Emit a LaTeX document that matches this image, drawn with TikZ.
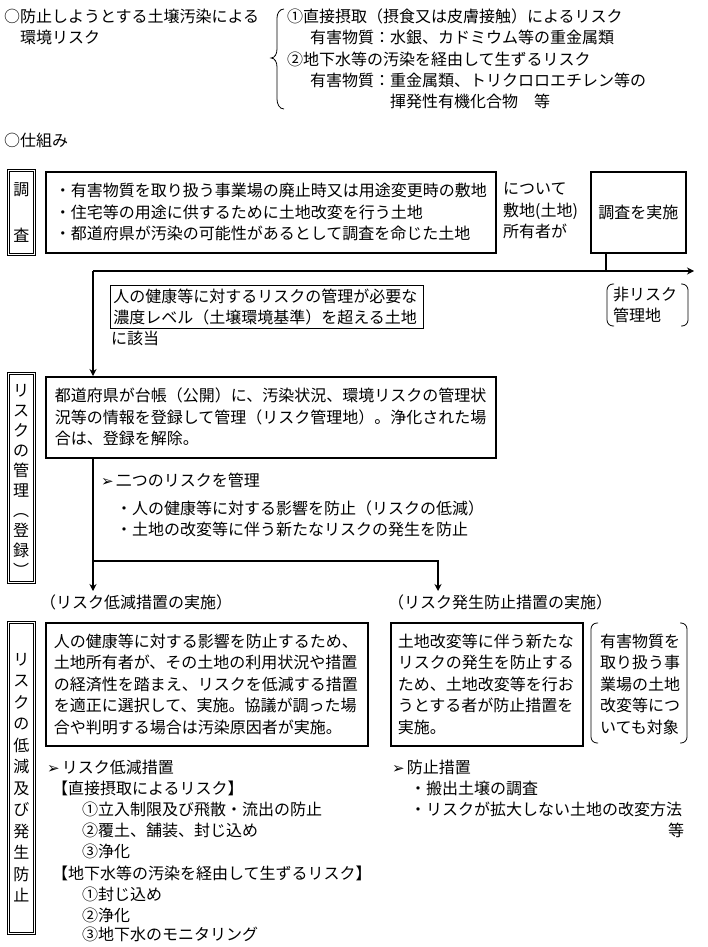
\documentclass[tikz,border=0pt]{standalone}
\usepackage{fontspec}
\setmainfont{Noto Sans CJK JP}
\newfontfamily\dv{DejaVu Sans}
\usetikzlibrary{arrows.meta}
\newcommand\jpsz{\fontsize{16}{21.5}\selectfont}
\newcommand\mk{{\dv\fontsize{15}{15}\selectfont ➢}\hspace{2pt}}
\begin{document}
\begin{tikzpicture}[x=1pt,y=-1pt,
  jp/.style={font=\jpsz, inner sep=0pt},
  tx/.style={jp, anchor=west},
  bx/.style={jp, draw, line width=1.6pt, anchor=north west, inner xsep=9pt, align=left},
  thinbx/.style={jp, draw, line width=0.8pt, anchor=north west, inner xsep=3pt, align=left},
  lab/.style={draw, line width=0.6pt, double, double distance=1.6pt, anchor=north west, inner sep=0pt},
  vt/.style={jp, align=center},
  ln/.style={line width=1.6pt},
  ar/.style={line width=1.6pt, -{Stealth[length=7pt,width=7pt]}},
  paren/.style={line width=0.8pt, rounded corners=6pt}
]
\useasboundingbox[fill=white] (0,0) rectangle (707,947);

% header
\node[tx] (t1) at (4,16) {○防止しようとする土壌汚染による};
\node[tx] (t2) at (20,37) {環境リスク};
\draw[line width=0.8pt] (284,9) to[out=180,in=90] (277,18) -- (277,49) to[out=-90,in=0] (271,58)
  to[out=0,in=90] (277,67) -- (277,99) to[out=-90,in=180] (284,109);
\node[tx] (r1) at (287,16) {①直接摂取（摂食又は皮膚接触）によるリスク};
\node[tx] (r2) at (310,37) {有害物質：水銀、カドミウム等の重金属類};
\node[tx] (r3) at (287,59) {②地下水等の汚染を経由して生ずるリスク};
\node[tx] (r4) at (310,80) {有害物質：重金属類、トリクロロエチレン等の};
\node[tx] (r5) at (390,101) {揮発性有機化合物　等};

\node[tx] (sk) at (4,140) {○仕組み};

% survey row
\node[lab, minimum width=26, minimum height=84] (L1) at (8,170) {};
\node[vt, font=\fontsize{16}{46}\selectfont] (L1t) at (L1.center) {調\\査};
\node[bx, minimum width=450, minimum height=81, text width=432] (B1) at (45,171)
  {・有害物質を取り扱う事業場の廃止時又は用途変更時の敷地\\・住宅等の用途に供するために土地改変を行う土地\\・都道府県が汚染の可能性があるとして調査を命じた土地};
\node[jp, align=left, anchor=west] (own) at (503,211) {について\\敷地(土地)\\所有者が};
\node[bx, minimum width=95, minimum height=81, inner xsep=0pt, align=center] (J) at (590,171) {調査を実施};

\coordinate (hL) at (93,271);
\coordinate (hR) at (694,271);
\coordinate (hJ) at (606,271);

\node[thinbx, minimum width=313, minimum height=43, text width=307] (K) at (110,285)
  {人の健康等に対するリスクの管理が必要な\\濃度レベル（土壌環境基準）を超える土地};
\node[tx] (K2) at (111,338) {に該当};

\draw[paren] (614,284) -- (607,284) -- (607,326) -- (614,326);
\draw[paren] (681,284) -- (688,284) -- (688,326) -- (681,326);
\node[jp, align=left, anchor=west] (NR) at (613,305) {非リスク\\管理地};

% management row
\node[lab, minimum width=26, minimum height=209] (L2) at (8,373) {};
\node[vt, font=\fontsize{16}{20}\selectfont] (L2t) at (21,480) {リ\\ス\\ク\\の\\管\\理\\︵\\登\\録\\︶};
\node[bx, minimum width=450, minimum height=81, text width=432] (B2) at (45,376)
  {都道府県が台帳（公開）に、汚染状況、環境リスクの管理状\\況等の情報を登録して管理（リスク管理地）。浄化された場\\合は、登録を解除。};

\draw[ln] (J.south -| hJ) -- (hJ);
\draw[ar] (hL) -- (hR);
\draw[ar] (hL) -- (B2.north -| hL);

\node[tx] (m1) at (101,480) {\mk 二つのリスクを管理};
\node[tx] (m2) at (116,508) {・人の健康等に対する影響を防止（リスクの低減）};
\node[tx] (m3) at (116,529) {・土地の改変等に伴う新たなリスクの発生を防止};

\coordinate (v2) at (93,561);
\coordinate (h2) at (438,561);
\coordinate (a1) at (93,591);
\coordinate (a2) at (438,591);
\draw[ar] (B2.south -| v2) -- (a1);
\draw[ar] (v2) -- (h2) -- (a2);

\node[tx] (s1) at (40,602) {（リスク低減措置の実施）};
\node[tx] (s2) at (388,602) {（リスク発生防止措置の実施）};

% reduction row
\node[lab, minimum width=26, minimum height=311] (L3) at (8,622) {};
\node[vt] (L3t) at (L3.center) {リ\\ス\\ク\\の\\低\\減\\及\\び\\発\\生\\防\\止};
\node[bx, minimum width=322, minimum height=123, text width=306, inner xsep=8pt] (B3) at (45,622)
  {人の健康等に対する影響を防止するため、\\土地所有者が、その土地の利用状況や措置\\の経済性を踏まえ、リスクを低減する措置\\を適正に選択して、実施。協議が調った場\\合や判明する場合は汚染原因者が実施。};
\node[bx, minimum width=192, minimum height=123, text width=178, inner xsep=7pt] (B4) at (390,622)
  {土地改変等に伴う新たな\\リスクの発生を防止する\\ため、土地改変等を行お\\うとする者が防止措置を\\実施。};
\draw[paren] (598,623) -- (591,623) -- (591,743) -- (598,743);
\draw[paren] (680,623) -- (687,623) -- (687,743) -- (680,743);
\node[jp, align=left, anchor=west] (P) at (600,684) {有害物質を\\取り扱う事\\業場の土地\\改変等につ\\いても対象};

% lists
\node[tx] (l1) at (47,767) {\mk リスク低減措置};
\node[tx] (l2) at (52,788) {【直接摂取によるリスク】};
\node[tx] (l3) at (82,809) {①立入制限及び飛散・流出の防止};
\node[tx] (l4) at (82,830) {②覆土、舗装、封じ込め};
\node[tx] (l5) at (82,851) {③浄化};
\node[tx] (l6) at (52,873) {【地下水等の汚染を経由して生ずるリスク】};
\node[tx] (l7) at (82,894) {①封じ込め};
\node[tx] (l8) at (82,915) {②浄化};
\node[tx] (l9) at (82,934) {③地下水のモニタリング};

\node[tx] (q1) at (392,767) {\mk 防止措置};
\node[tx] (q2) at (410,788) {・搬出土壌の調査};
\node[tx] (q3) at (410,809) {・リスクが拡大しない土地の改変方法};
\node[tx] (q4) at (668,830) {等};
\end{tikzpicture}
\end{document}
